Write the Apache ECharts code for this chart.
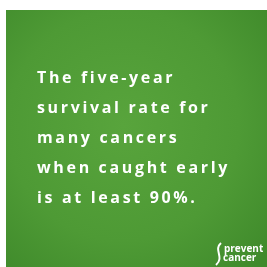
<!DOCTYPE html>
<html>
<head>
<meta charset="utf-8">
<script src="https://cdn.jsdelivr.net/npm/echarts@6/dist/echarts.min.js"></script>
<style>
  html,body{margin:0;padding:0;background:#fff;}
  #main{width:267px;height:267px;}
</style>
</head>
<body>
<div id="main"></div>
<script>
// 文字内容
var lines = ['The five-year', 'survival rate for', 'many cancers', 'when caught early', 'is at least 90%.'];
var logoLines = ['prevent', 'cancer'];

// letter spacing hack: thin spaces between characters
function spaced(s) {
    return s.split('').join('\u2009');
}

var chart = echarts.init(document.getElementById('main'));

var elems = [
    {
        type: 'rect',
        shape: {x: 6, y: 10, width: 261, height: 257},
        style: {
            fill: {
                type: 'radial', x: 0.45, y: 0.45, r: 0.75,
                colorStops: [
                    {offset: 0, color: '#58a43c'},
                    {offset: 0.6, color: '#4e9a35'},
                    {offset: 1, color: '#3f8a2b'}
                ]
            }
        }
    }
];

lines.forEach(function (t, i) {
    elems.push({
        type: 'text',
        x: 37,
        y: 86 + i * 30,
        style: {
            text: spaced(t),
            fill: '#ffffff',
            font: 'bold 16px "Open Sans"',
            textVerticalAlign: 'bottom'
        }
    });
});

// logo
elems.push({
    type: 'text', x: 224, y: 254,
    style: {text: logoLines[0], fill: '#fff', font: 'bold 10px "Open Sans"', textVerticalAlign: 'bottom'}
});
elems.push({
    type: 'text', x: 223, y: 263,
    style: {text: logoLines[1], fill: '#fff', font: 'bold 10px "Open Sans"', textVerticalAlign: 'bottom'}
});
elems.push({
    type: 'bezierCurve',
    shape: {x1: 221, y1: 243, cpx1: 213, cpy1: 250, cpx2: 225, cpy2: 257, x2: 216, y2: 265},
    style: {stroke: '#fff', lineWidth: 2, fill: null}
});

chart.setOption({
    animation: false,
    graphic: {elements: elems}
});
</script>
</body>
</html>
